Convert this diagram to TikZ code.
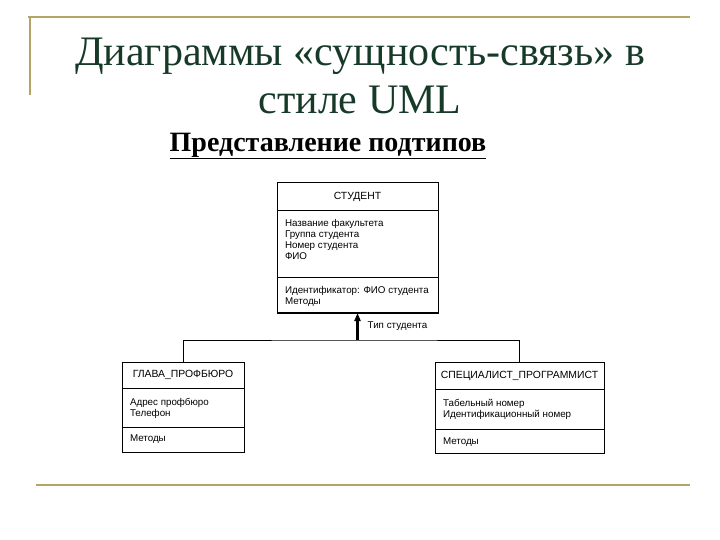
\documentclass[tikz,border=0pt]{standalone}
\usepackage{fontspec}
\setmainfont{Liberation Serif}
\newfontfamily\umlsans{Liberation Sans}
\usetikzlibrary{positioning, arrows.meta}

\definecolor{titlegreen}{HTML}{173A28}
\definecolor{slidegold}{HTML}{B3A565}

% compartment text: height, width, top padding, lines
\newcommand{\partbox}[4]{\parbox[c][#1][t]{#2}{\vspace*{#3}#4}}

\begin{document}
\begin{tikzpicture}[
    x=1pt, y=-1pt,
    goldline/.style={draw=slidegold, line width=1.6pt},
    umlhead/.style={rectangle, draw=black, line width=1pt, inner sep=0pt, outer sep=0pt, anchor=north, font=\umlsans\fontsize{10.4}{12}\selectfont},
    umlpart/.style={rectangle, draw=black, line width=1pt, inner xsep=8pt, inner ysep=0pt, outer sep=0pt, font=\umlsans\fontsize{9.8}{11}\selectfont},
    umllabel/.style={inner sep=0pt, font=\umlsans\fontsize{9.8}{11}\selectfont}
]
\useasboundingbox (0,0) rectangle (720,540);

% Slide frame
\draw[goldline] (28,17) -- (690,17);
\draw[goldline] (30,17) -- (30,95);
\draw[goldline] (36,485) -- (690,485);

% Title
\node[text=titlegreen, align=center, font=\fontsize{42}{48}\selectfont] (title) at (360,76) {Диаграммы «сущность-связь» в\\стиле UML};
\node[font=\bfseries\fontsize{28}{32}\selectfont] (subtitle) at (328,146) {\underline{Представление подтипов}};

% Supertype
\node[umlhead, minimum width=161pt, minimum height=28pt] (student) at (357.5,183) {СТУДЕНТ};
\node[umlpart, below=0pt of student] (student-attr) {\partbox{66pt}{145pt}{8pt}{Название факультета\\Группа студента\\Номер студента\\ФИО}};
\node[umlpart, below=0pt of student-attr] (student-meth) {\partbox{36pt}{145pt}{9pt}{Идентификатор: ФИО студента\\Методы}};
\draw[line width=2.4pt] (student-meth.south west) -- (student-meth.south east);

% Subtypes
\node[umlhead, minimum width=122pt, minimum height=26pt] (glava) at (183,362) {ГЛАВА\_ПРОФБЮРО};
\node[umlpart, below=0pt of glava] (glava-attr) {\partbox{39pt}{106pt}{10pt}{Адрес профбюро\\Телефон}};
\node[umlpart, below=0pt of glava-attr] (glava-meth) {\partbox{25pt}{106pt}{8pt}{Методы}};

\node[umlhead, minimum width=169pt, minimum height=27pt] (spec) at (519.5,362) {СПЕЦИАЛИСТ\_ПРОГРАММИСТ};
\node[umlpart, below=0pt of spec] (spec-attr) {\partbox{40pt}{153pt}{10pt}{Табельный номер\\Идентификационный номер}};
\node[umlpart, below=0pt of spec-attr] (spec-meth) {\partbox{24pt}{153pt}{9pt}{Методы}};

% Generalization
\coordinate (fork) at (357.5,340);
\draw[line width=1pt] (glava.north) |- (fork) -| (spec.north);
\draw[line width=2.2pt, -{Triangle[length=8pt, width=6pt]}] (fork) -- (student-meth.south);
\node[umllabel, above right=9pt and 10pt of fork] (subtype) {Тип студента};

\end{tikzpicture}
\end{document}
